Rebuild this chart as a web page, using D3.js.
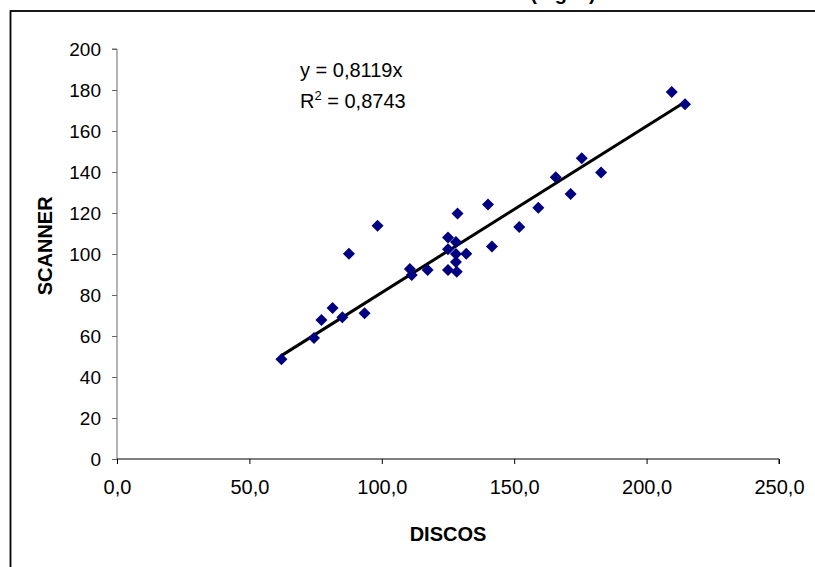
<!DOCTYPE html>
<html>
<head>
<meta charset="utf-8">
<script src="https://cdn.jsdelivr.net/npm/d3@7"></script>
<style>
  html, body { margin: 0; padding: 0; background: #fff; }
  svg { display: block; font-family: "Liberation Sans", Arial, sans-serif; }
</style>
</head>
<body>
<svg id="chart" width="815" height="567"></svg>
<script>
// ---- data ----
const discos = [62.1, 74.4, 77.2, 81.4, 85.1, 87.6, 93.5, 98.4, 110.6, 111.3,
  117.3, 125.0, 125.0, 125.0, 128.0, 128.0, 128.0, 128.3, 128.6, 131.9,
  140.1, 141.6, 151.9, 159.1, 165.7, 171.3, 175.5, 182.8, 209.5, 214.5];
const scanner = [48.6, 59.0, 67.8, 73.7, 69.1, 100.1, 71.1, 113.8, 92.7, 89.8,
  92.2, 108.1, 102.3, 92.2, 105.9, 100.0, 96.1, 91.4, 119.8, 100.1,
  124.2, 103.7, 113.2, 122.6, 137.4, 129.3, 146.7, 139.7, 179.0, 173.0];
const slope = 0.8119;
const equationText = "y = 0,8119x";
const r2Value = "0,8743";
const xTicks = [0, 50, 100, 150, 200, 250];
const yTicks = [0, 20, 40, 60, 80, 100, 120, 140, 160, 180, 200];
const xTitle = "DISCOS";
const yTitle = "SCANNER";
const chartTitle = "(Fig. 2)";

const svg = d3.select("#chart");
const x = d3.scaleLinear().domain([0, 250]).range([117, 779]);
const y = d3.scaleLinear().domain([0, 200]).range([459, 49]);

// outer frame (extends beyond the view on right and bottom)
svg.append("rect").attr("x", 10.5).attr("y", 11).attr("width", 900).attr("height", 700)
  .attr("fill", "none").attr("stroke", "#000").attr("stroke-width", 1.8);

// cut-off title (only its lower part shows at the top edge, as in the reference)
svg.append("text").attr("x", 563).attr("y", 0).attr("text-anchor", "middle")
  .attr("font-size", 20).attr("font-weight", "bold").text(chartTitle);

// y axis
const yAxis = svg.append("g").attr("transform", `translate(${x(0)},0)`)
  .call(d3.axisLeft(y).tickValues(yTicks).tickSize(5).tickPadding(11).tickFormat(d3.format("d")));
yAxis.select(".domain").attr("stroke", "#666").attr("d", `M-5,${y(200)}H0V${y(0)}`);
yAxis.selectAll(".tick line").attr("stroke", "#666");
yAxis.selectAll("text").attr("font-size", 19).attr("fill", "#000")
  .attr("font-family", "'Liberation Sans', Arial, sans-serif");

// x axis
const xAxis = svg.append("g").attr("transform", `translate(0,${y(0)})`)
  .call(d3.axisBottom(x).tickValues(xTicks).tickSize(5).tickPadding(16)
    .tickFormat(d => d3.format(".1f")(d).replace(".", ",")));
xAxis.select(".domain").attr("stroke", "#000").attr("d", `M${x(0)},0H${x(250)}V5`);
xAxis.selectAll(".tick line").attr("stroke", "#000");
xAxis.selectAll("text").attr("font-size", 20).attr("fill", "#000")
  .attr("font-family", "'Liberation Sans', Arial, sans-serif");

// axis titles
svg.append("text").attr("x", x(125)).attr("y", 541).attr("text-anchor", "middle")
  .attr("font-size", 20).attr("font-weight", "bold").text(xTitle);
svg.append("text").attr("transform", `translate(52,${y(104)}) rotate(-90)`)
  .attr("text-anchor", "middle").attr("font-size", 20).attr("font-weight", "bold").text(yTitle);

// trend line
const xmin = d3.min(discos), xmax = d3.max(discos);
svg.append("line")
  .attr("x1", x(xmin)).attr("y1", y(slope * xmin))
  .attr("x2", x(xmax)).attr("y2", y(slope * xmax))
  .attr("stroke", "#000").attr("stroke-width", 3);

// points
const pts = discos.map((d, i) => ({ x: d, y: scanner[i] }));
const sym = d3.symbol().type(d3.symbolSquare).size(72);
svg.append("g").selectAll("path").data(pts).join("path")
  .attr("d", sym)
  .attr("transform", d => `translate(${x(d.x)},${y(d.y)}) rotate(45)`)
  .attr("fill", "#000080");

// equation
const eq = svg.append("g");
eq.append("text").attr("x", 300).attr("y", 77).attr("font-size", 20).text(equationText);
const r2 = eq.append("text").attr("x", 300).attr("y", 108).attr("font-size", 20);
r2.append("tspan").text("R");
r2.append("tspan").attr("font-size", 13).attr("dy", -8).text("2");
r2.append("tspan").attr("dy", 8).text(" = " + r2Value);
</script>
</body>
</html>
